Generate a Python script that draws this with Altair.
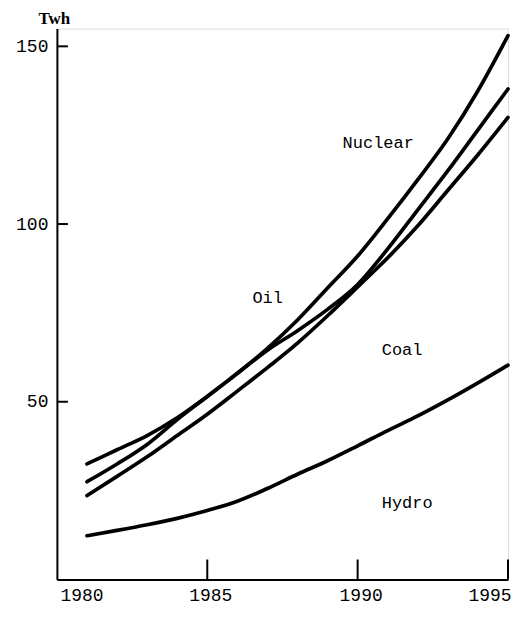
import altair as alt
import pandas as pd

years = list(range(1981, 1996))
nuclear = [27.5, 32.5, 38, 45, 51.5, 58, 65, 73, 82, 91, 101.5, 112.5, 124, 137.5, 153]
oil = [32.5, 36.5, 40.5, 45.5, 51.5, 58, 64.5, 70, 76, 83, 93, 104, 115, 126.5, 138]
coal = [23.6, 29, 34.5, 40.5, 46.5, 53, 59.6, 66.5, 74.2, 82.3, 90.5, 99.5, 109.5, 119.5, 130]
hydro = [12.3, 13.8, 15.4, 17.2, 19.4, 22, 25.6, 29.6, 33.4, 37.6, 41.9, 46, 50.5, 55.3, 60.3]

label_names = ["Nuclear", "Oil", "Coal", "Hydro"]
label_x = [1989.5, 1986.5, 1990.8, 1990.8]
label_y = [122.8, 79.2, 64.6, 21.6]

x_ticks = [1980, 1985, 1990, 1995]
y_ticks = [50, 100, 150]

rows = []
for name, vals in [("Nuclear", nuclear), ("Oil", oil), ("Coal", coal), ("Hydro", hydro)]:
    for yr, v in zip(years, vals):
        rows.append({"series": name, "year": yr, "twh": v})
df = pd.DataFrame(rows)

labels_df = pd.DataFrame({"name": label_names, "year": label_x, "twh": label_y})
xt_df = pd.DataFrame({"year": x_ticks[1:]})
yt_df = pd.DataFrame({"twh": y_ticks})

W, H = 452, 552
FONT = "Liberation Mono"

xscale = alt.Scale(domain=[1980, 1995], nice=False, zero=False)
yscale = alt.Scale(domain=[0, 155], nice=False)

xaxis = alt.Axis(values=x_ticks, format="d", ticks=False, grid=False,
                 domainColor="black", domainWidth=2, labelFont=FONT,
                 labelFontSize=18, labelColor="black", labelPadding=7,
                 labelFlush=True, labelOffset=3, title=None)
yaxis = alt.Axis(values=y_ticks, ticks=False, grid=False,
                 domainColor="black", domainWidth=2, labelFont=FONT,
                 labelFontSize=18, labelColor="black", labelPadding=9,
                 title="Twh", titleAngle=0, titleX=-3, titleY=-10,
                 titleAlign="center", titleBaseline="middle",
                 titleFont="Liberation Serif", titleFontWeight="bold",
                 titleFontSize=17, titleColor="black")

lines = alt.Chart(df).mark_line(color="black", strokeWidth=3.7,
                                interpolate="monotone", strokeCap="round").encode(
    x=alt.X("year:Q", scale=xscale, axis=xaxis),
    y=alt.Y("twh:Q", scale=yscale, axis=yaxis),
    detail="series:N",
)

texts = alt.Chart(labels_df).mark_text(align="left", baseline="middle",
                                       font=FONT, fontSize=17, color="black").encode(
    x=alt.X("year:Q", scale=xscale),
    y=alt.Y("twh:Q", scale=yscale),
    text="name:N",
)

xticks = alt.Chart(xt_df).mark_rule(color="black", strokeWidth=2).encode(
    x=alt.X("year:Q", scale=xscale),
    y=alt.value(H),
    y2=alt.value(H - 20),
)

yticks = alt.Chart(yt_df).mark_rule(color="black", strokeWidth=2).encode(
    y=alt.Y("twh:Q", scale=yscale),
    x=alt.value(0),
    x2=alt.value(11),
)

chart = alt.layer(lines, texts, xticks, yticks).properties(
    width=W, height=H,
    autosize=alt.AutoSizeParams(type="none"),
    padding={"left": 49, "top": 20, "right": 8, "bottom": 31},
).configure_view(stroke=None).configure(background="white")

chart.save("out.html", embed_options={"renderer": "svg", "actions": False})
